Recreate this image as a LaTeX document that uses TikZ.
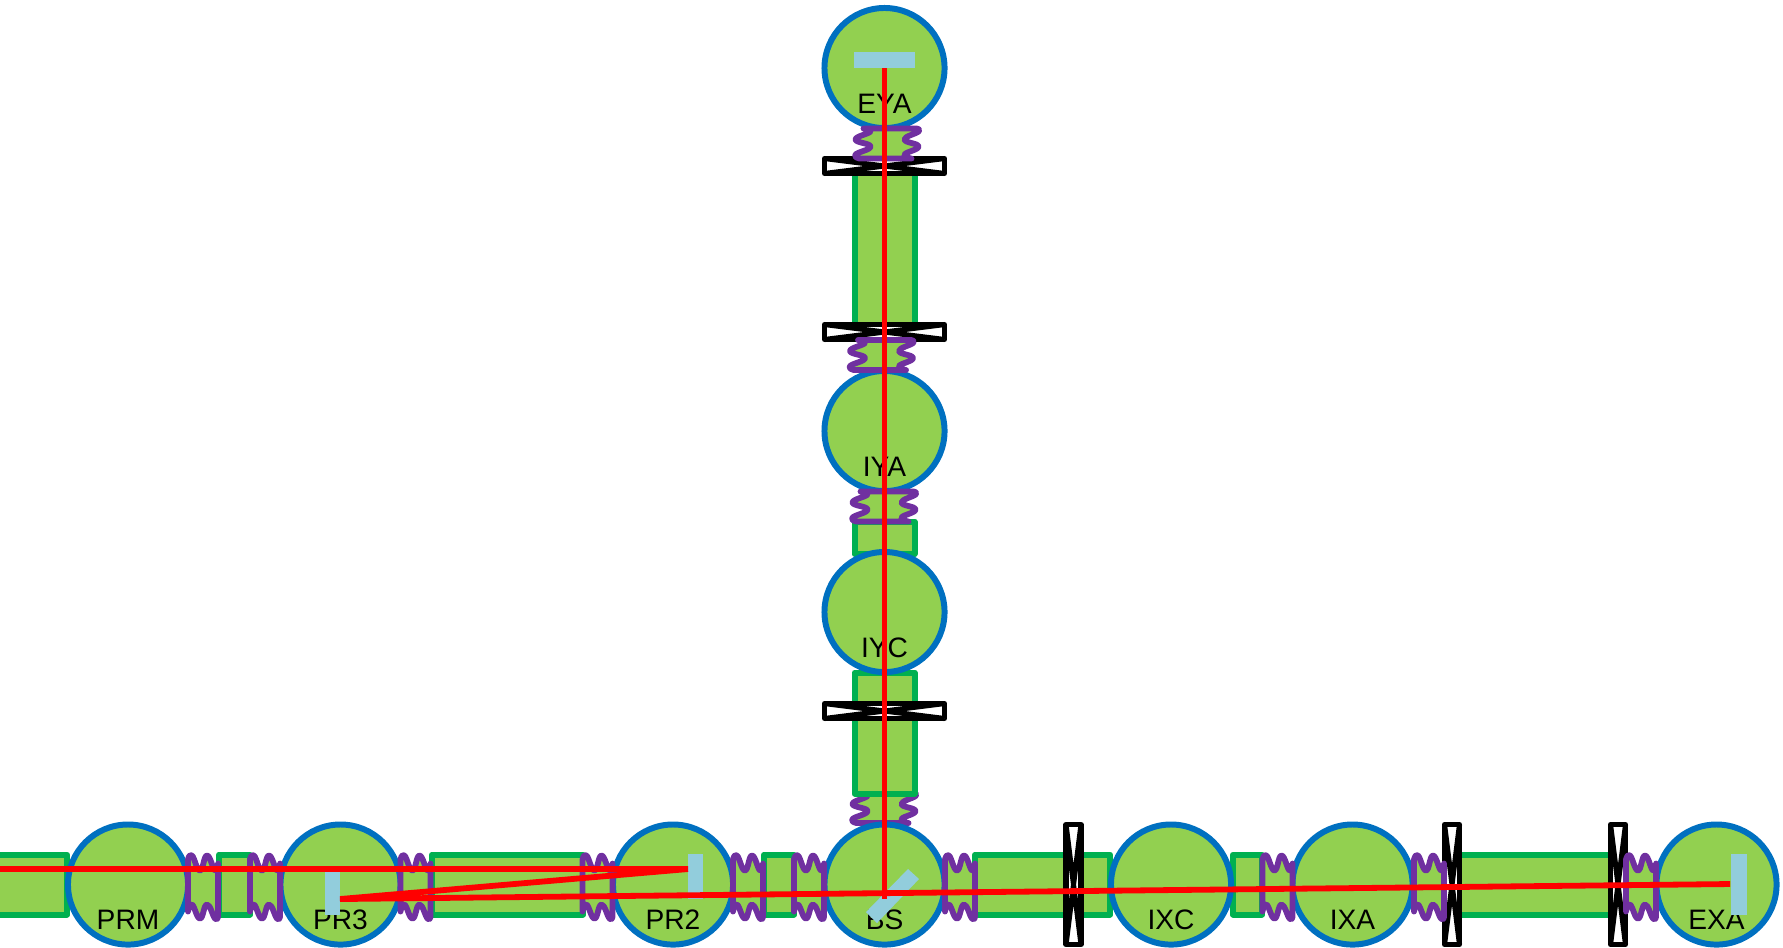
\documentclass[tikz,border=0pt]{standalone}
\usepackage{fontspec}
\setmainfont{Liberation Sans}
\definecolor{cavfill}{HTML}{92D050}
\definecolor{tube}{HTML}{00B050}
\definecolor{ring}{HTML}{0070C0}
\definecolor{spr}{HTML}{7030A0}
\definecolor{mirr}{HTML}{92CDDC}
\tikzset{
  x=0.01cm,y=-0.01cm,
  tubebox/.style={draw=tube,fill=cavfill,line width=1.7pt,line join=round},
  chamber/.style={draw=ring,fill=cavfill,line width=1.7pt,circle,minimum size=1.2cm,inner sep=0pt},
  mirrorbar/.style={fill=mirr,draw=none},
  beam/.style={draw=red,line width=1.65pt,line join=miter},
  baffle/.style={draw=black,fill=white,line width=1.45pt,line join=round},
  springpath/.style={draw=spr,fill=cavfill,line width=1.65pt,line join=round,line cap=round},
  label/.style={font=\fontsize{8}{8}\selectfont,anchor=base,inner sep=0pt,text=black},
  pics/spring/.style={code={
    \path[springpath]
      plot[smooth,tension=.8] coordinates {(-15,-25) (-11,-29) (-3,-14) (4,-29) (12,-14) (15,-21)}
      -- plot[smooth,tension=.8] coordinates {(15,32) (12,34) (4,20) (-3,34) (-11,20) (-15,27)}
      -- cycle;
  }},
  pics/baffleH/.style={code={
    \path[baffle] (-7.5,-60) rectangle (7.5,60);
    \draw[baffle] (-7.5,-60) -- (7.5,60) (7.5,-60) -- (-7.5,60);
  }},
}
\begin{document}
\begin{tikzpicture}
\useasboundingbox (0,0) rectangle (1783,947);
\clip (0,0) rectangle (1783,947);
% spring hidden behind the lower vertical tube
\pic[rotate=90] at (881.5,808) {spring};
% tubes horizontal
\path[tubebox] (-20,854.5) rectangle (67,914.5);
\path[tubebox] (219,854.5) rectangle (250,914.5);
\path[tubebox] (432,854.5) rectangle (583,914.5);
\path[tubebox] (764,854.5) rectangle (794,914.5);
\path[tubebox] (975,854.5) rectangle (1110,914.5);
\path[tubebox] (1233,854.5) rectangle (1262,914.5);
\path[tubebox] (1452,854.5) rectangle (1618,914.5);
% tubes vertical
\path[tubebox] (854.5,166) rectangle (914.5,332);
\path[tubebox] (854.5,521.5) rectangle (914.5,554);
\path[tubebox] (854.5,672.5) rectangle (914.5,793.5);
% chambers
\node[chamber] (EYAc) at (884.5,68) {};
\node[chamber] (IYAc) at (884.5,431) {};
\node[chamber] (IYCc) at (884.5,612) {};
\node[chamber] (BSc) at (884.5,884.5) {};
\node[chamber] (PRMc) at (128,884.5) {};
\node[chamber] (PR3c) at (340.5,884.5) {};
\node[chamber] (PR2c) at (673,884.5) {};
\node[chamber] (IXCc) at (1171,884.5) {};
\node[chamber] (IXAc) at (1352.5,884.5) {};
\node[chamber] (EXAc) at (1716.5,884.5) {};
% baffles
\pic at (1073.5,884.5) {baffleH};
\pic at (1452,884.5) {baffleH};
\pic at (1618,884.5) {baffleH};
\pic[rotate=90] at (884.5,166) {baffleH};
\pic[rotate=90] at (884.5,332) {baffleH};
\pic[rotate=90] at (884.5,711) {baffleH};
% springs
\foreach \sx in {203,265,415.5,597.5,748,809,960,1277.5,1429,1641}
  {\pic at (\sx,884.5) {spring};}
\pic[rotate=90] at (884.5,143.5) {spring};
\pic[rotate=90] at (879,355) {spring};
\pic[rotate=90] at (881.5,506.5) {spring};
% labels
\node[label] (tEYA) at (884.5,113) {EYA};
\node[label] (tIYA) at (884.5,476) {IYA};
\node[label] (tIYC) at (884.5,657) {IYC};
\node[label] (tPRM) at (128,929) {PRM};
\node[label] (tPR3) at (340.5,929) {PR3};
\node[label] (tPR2) at (673,929) {PR2};
\node[label] (tBS) at (884.5,929) {BS};
\node[label] (tIXC) at (1171,929) {IXC};
\node[label] (tIXA) at (1352.5,929) {IXA};
\node[label] (tEXA) at (1716.5,929) {EXA};
% mirrors
\path[mirrorbar] (854,52) rectangle (915,68);
\path[mirrorbar] (325,872) rectangle (340,915);
\path[mirrorbar] (688,854) rectangle (703,899);
\path[mirrorbar] (1731,854) rectangle (1747,915);
\path[mirrorbar] (908,869) -- (919,879) -- (877,923) -- (866,912) -- cycle;
% beams
\coordinate (bIn) at (-10,869);
\coordinate (bPR2) at (688,869);
\coordinate (bPR3) at (340,899);
\coordinate (bEXA) at (1730,884);
\coordinate (bEYA) at (884.5,68);
\coordinate (bBS) at (884.5,899);
\draw[beam] (bIn) -- (bPR2) -- (bPR3) -- (bEXA);
\draw[beam] (bEYA) -- (bBS);
\end{tikzpicture}
\end{document}
